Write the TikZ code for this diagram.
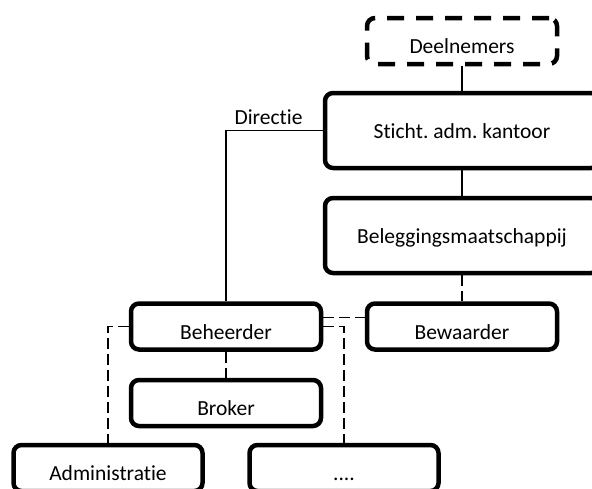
\documentclass[tikz,border=0pt]{standalone}
\usepackage{fontspec}
\setmainfont{Carlito}[Ligatures=NoCommon]
\frenchspacing
\begin{document}
\begin{tikzpicture}[x=1pt,y=-1pt,
  box/.style={draw, line width=4.5pt, rounded corners=8pt, inner sep=2pt,
    font=\fontsize{21.5}{25}\selectfont},
  smallbox/.style={box, minimum width=190pt, minimum height=46pt,
    text height=25.5pt, text depth=0pt},
  largebox/.style={box, minimum width=274pt, minimum height=75pt,
    text height=16.5pt, text depth=0pt},
  dashedbox/.style={dash pattern=on 17pt off 12pt},
  link/.style={line width=1.3pt},
  dashedlink/.style={link, dash pattern=on 11pt off 5pt},
  linklabel/.style={font=\fontsize{21.5}{25}\selectfont, inner sep=5pt}]
  \useasboundingbox (0,0) rectangle (592,488);
  \clip (0,0) rectangle (592,488);

  % boxes
  \node[smallbox, dashedbox] (deel) at (462,41) {Deelnemers};
  \node[largebox] (sak) at (462,130.5) {Sticht. adm. kantoor};
  \node[largebox] (bm) at (462,235.5) {Beleggingsmaatschappij};
  \node[smallbox] (bew) at (462,326.5) {Bewaarder};
  \node[smallbox] (beh) at (226,326.5) {Beheerder};
  \node[smallbox] (brk) at (226,403) {Broker};
  \node[smallbox, minimum width=189pt] (adm) at (108,468) {Administratie};
  \node[smallbox, minimum width=189pt] (etc) at (344,468) {....};

  % connectors
  \draw[link] (deel.south) -- (sak.north);
  \draw[link] (sak.south) -- (bm.north);
  \draw[dashedlink] (bm.south) -- (bew.north);
  \draw[link] (sak.west) -| node[pos=0.28, above, linklabel] {Directie} (beh.north);
  \draw[dashedlink] ([yshift=9pt]beh.east) -- ([yshift=9pt]bew.west);
  \draw[dashedlink] (beh.south) -- (brk.north);
  \draw[dashedlink] (beh.west) -| (adm.north);
  \draw[dashedlink] (beh.east) -| (etc.north);
\end{tikzpicture}
\end{document}
